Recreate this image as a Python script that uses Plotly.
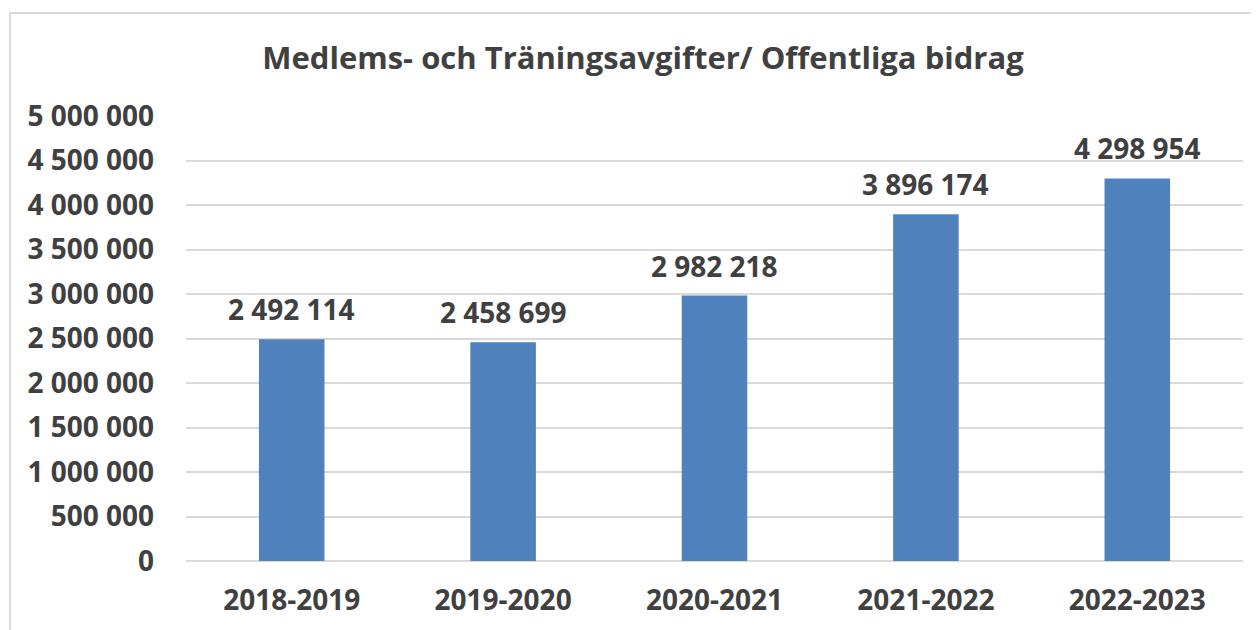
import plotly.graph_objects as go

categories = ["2018-2019", "2019-2020", "2020-2021", "2021-2022", "2022-2023"]
values = [2492114, 2458699, 2982218, 3896174, 4298954]
title_text = "Medlems- och Träningsavgifter/ Offentliga bidrag"

FONT = "Open Sans"
TXT = "#404040"
OFF = 8  # default page body margin

fig = go.Figure()
fig.add_trace(go.Bar(
    x=categories, y=values,
    marker=dict(color="#4F81BD", line=dict(width=0)),
    hoverinfo="x+y",
))

for c, v in zip(categories, values):
    fig.add_annotation(
        x=c, y=v, xref="x", yref="y",
        text=f"{v:,}".replace(",", " "),
        showarrow=False, yanchor="bottom", yshift=9,
        font=dict(family=FONT, size=28, color=TXT, weight="bold"),
    )

W, H = 1259 - OFF, 630 - OFF
L, R, T, B = 186 - OFF, 16, 116 - OFF, 69
pw, ph = W - L - R, H - T - B

fig.update_layout(
    width=W, height=H,
    margin=dict(l=L, r=R, t=T, b=B),
    paper_bgcolor="white", plot_bgcolor="white",
    separators=", ",
    bargap=0.69,
    showlegend=False,
    title=dict(
        text=title_text, x=(643 - OFF) / W, xanchor="center",
        y=1 - (58 - OFF) / H, yanchor="middle",
        font=dict(family=FONT, size=31, color=TXT, weight="bold"),
    ),
    xaxis=dict(
        type="category",
        showgrid=False, showline=False, ticks="",
        tickfont=dict(family=FONT, size=28, color=TXT, weight="bold"),
        ticklabelstandoff=20,
    ),
    yaxis=dict(
        range=[0, 5000000], dtick=500000, tick0=0,
        tickformat=",d",
        showgrid=True, gridcolor="#D9D9D9", gridwidth=1.5,
        zeroline=True, zerolinecolor="#D9D9D9", zerolinewidth=1.5,
        showline=False, ticks="",
        tickfont=dict(family=FONT, size=28, color=TXT, weight="bold"),
        ticklabelstandoff=31,
    ),
    shapes=[dict(
        type="rect", xref="paper", yref="paper",
        x0=(10 - OFF - L) / pw, x1=(W + 20 - L) / pw,
        y0=(-20 - B) / ph, y1=(H - (13 - OFF) - B) / ph,
        line=dict(color="#D9D9D9", width=2), fillcolor="rgba(0,0,0,0)",
        layer="below",
    )],
)

fig.write_html("out.html")
